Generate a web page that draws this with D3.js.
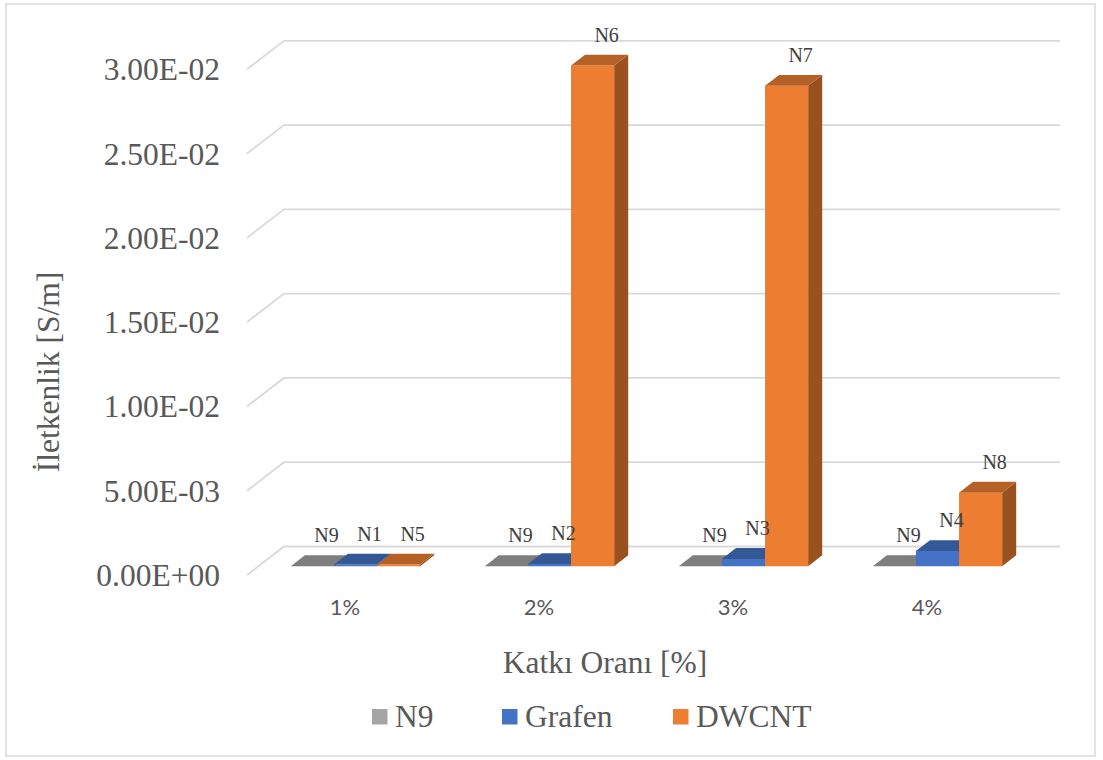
<!DOCTYPE html>
<html>
<head>
<meta charset="utf-8">
<script src="https://cdn.jsdelivr.net/npm/d3@7/dist/d3.min.js"></script>
<style>
  html, body { margin: 0; padding: 0; background: #ffffff; }
  svg { display: block; }
</style>
</head>
<body>
<svg id="chart" width="1103" height="760"></svg>
<script>
// Conductivity by additive ratio (3D clustered columns)
const categories = ["1%", "2%", "3%", "4%"];
const seriesNames = ["N9", "Grafen", "DWCNT"];
const n9Values = [0.000001, 0.000001, 0.000001, 0.000001];
const grafenValues = [0.00010, 0.00013, 0.00043, 0.00090];
const dwcntValues = [0.00010, 0.02970, 0.02850, 0.00436];
const n9Labels = ["N9", "N9", "N9", "N9"];
const grafenLabels = ["N1", "N2", "N3", "N4"];
const dwcntLabels = ["N5", "N6", "N7", "N8"];
const yTickValues = [0, 0.005, 0.01, 0.015, 0.02, 0.025, 0.03];
const seriesColors = ["#A5A5A5", "#4472C4", "#ED7D31"];

const seriesData = [
  { name: seriesNames[0], values: n9Values, labels: n9Labels, color: seriesColors[0] },
  { name: seriesNames[1], values: grafenValues, labels: grafenLabels, color: seriesColors[1] },
  { name: seriesNames[2], values: dwcntValues, labels: dwcntLabels, color: seriesColors[2] }
];

const svg = d3.select("#chart");
const serif = "'Liberation Serif', 'Times New Roman', serif";
const textColor = "#595959";

// outer frame
svg.append("rect")
  .attr("x", 6).attr("y", 4).attr("width", 1089).attr("height", 752)
  .attr("fill", "#ffffff").attr("stroke", "#d9d9d9").attr("stroke-width", 1.5);

// front-plane scales plus an oblique depth vector
const x0 = d3.scaleBand().domain(categories).range([247, 1023]).padding(0);
const x1 = d3.scaleBand().domain(seriesNames).range([0, x0.bandwidth()])
  .paddingInner(0).paddingOuter(0.75);
const y = d3.scaleLinear().domain([0, 0.03]).range([575, 69.3]);
const depth = { dx: 37, dy: -28.5 };
const barDepth0 = 0.31, barDepth1 = 0.69;

const proj = (px, py, t) => [px + depth.dx * t, py + depth.dy * t];

// gridlines on back wall + left side wall
const grid = svg.append("g");
yTickValues.forEach(v => {
  const [fx, fy] = proj(x0.range()[0], y(v), 0);
  const [bx, by] = proj(x0.range()[0], y(v), 1);
  const [ex, ey] = proj(x0.range()[1], y(v), 1);
  grid.append("path")
    .attr("d", `M${fx},${fy}L${bx},${by}L${ex},${ey}`)
    .attr("fill", "none").attr("stroke", "#d9d9d9").attr("stroke-width", 1.8);
});

// y tick labels
const fmtSci = v => {
  const [m, e] = d3.format(".2e")(v).split("e");
  const n = parseInt(e, 10);
  return m + "E" + (n < 0 ? "-" : "+") + String(Math.abs(n)).padStart(2, "0");
};
svg.append("g").selectAll("text").data(yTickValues).join("text")
  .attr("x", 220).attr("y", d => y(d))
  .attr("dy", "0.35em")
  .attr("text-anchor", "end")
  .attr("font-family", serif).attr("font-size", 31.5)
  .attr("fill", textColor)
  .text(fmtSci);

// bars: drawn left to right so nearer columns overlap their neighbours' sides
const shade = (c, k) => { const r = d3.rgb(c); return d3.rgb(r.r * k, r.g * k, r.b * k).formatHex(); };
const bars = svg.append("g");
const labelsG = svg.append("g");
categories.forEach((cat, ci) => {
  seriesData.forEach(s => {
    const v = s.values[ci];
    const xl = x0(cat) + x1(s.name);
    const xr = xl + x1.bandwidth();
    const yb = y(0), yt = y(v);
    const p = (px, py, t) => proj(px, py, t).join(",");
    const front = [p(xl, yb, barDepth0), p(xr, yb, barDepth0), p(xr, yt, barDepth0), p(xl, yt, barDepth0)];
    const top = [p(xl, yt, barDepth0), p(xr, yt, barDepth0), p(xr, yt, barDepth1), p(xl, yt, barDepth1)];
    const side = [p(xr, yb, barDepth0), p(xr, yb, barDepth1), p(xr, yt, barDepth1), p(xr, yt, barDepth0)];
    bars.append("polygon").attr("points", side.join(" ")).attr("fill", shade(s.color, 0.65));
    bars.append("polygon").attr("points", front.join(" ")).attr("fill", s.color);
    bars.append("polygon").attr("points", top.join(" ")).attr("fill", shade(s.color, 0.765));

    const [lx, ly] = proj((xl + xr) / 2, yt, barDepth1);
    labelsG.append("text")
      .attr("x", lx).attr("y", ly - 20)
      .attr("dy", "0.35em")
      .attr("text-anchor", "middle")
      .attr("font-family", serif).attr("font-size", 20)
      .attr("fill", "#404040")
      .text(s.labels[ci]);
  });
});

// category labels
svg.append("g").selectAll("text").data(categories).join("text")
  .attr("x", d => x0(d) + x0.bandwidth() / 2 + 1)
  .attr("y", 607).attr("dy", "0.35em")
  .attr("text-anchor", "middle")
  .attr("font-family", "Lato, 'Open Sans', sans-serif").attr("font-size", 22)
  .attr("fill", textColor)
  .text(d => d);

// axis titles
svg.append("text")
  .attr("x", 605).attr("y", 662).attr("dy", "0.35em")
  .attr("text-anchor", "middle")
  .attr("font-family", serif).attr("font-size", 31.5)
  .attr("fill", textColor)
  .text("Katkı Oranı [%]");

svg.append("text")
  .attr("transform", "translate(48,372) rotate(-90)")
  .attr("dy", "0.35em")
  .attr("text-anchor", "middle")
  .attr("font-family", serif).attr("font-size", 31.5)
  .attr("fill", textColor)
  .text("İletkenlik [S/m]");

// legend
const legendX = [372, 502, 673];
const legend = svg.append("g");
seriesData.forEach((s, i) => {
  legend.append("rect")
    .attr("x", legendX[i]).attr("y", 709).attr("width", 15.5).attr("height", 15.5)
    .attr("fill", s.color);
  legend.append("text")
    .attr("x", legendX[i] + 23).attr("y", 727)
    .attr("font-family", serif).attr("font-size", 31.5)
    .attr("fill", textColor)
    .text(s.name);
});
</script>
</body>
</html>
